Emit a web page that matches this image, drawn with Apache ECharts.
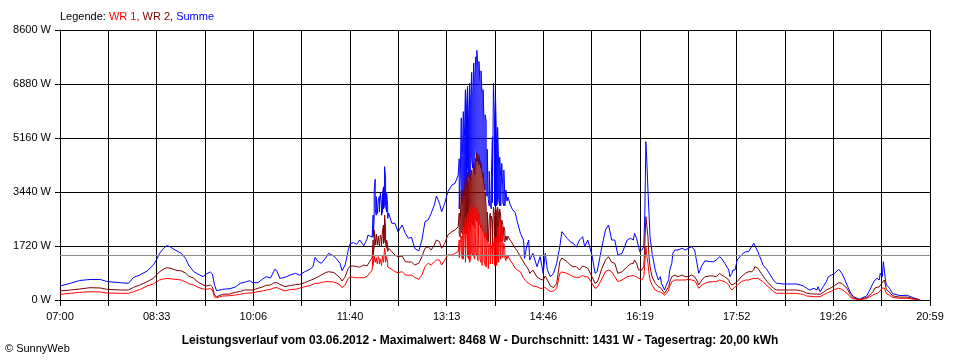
<!DOCTYPE html>
<html><head><meta charset="utf-8">
<script src="https://cdn.jsdelivr.net/npm/echarts@6/dist/echarts.min.js"></script>
<style>html,body{margin:0;padding:0;background:#fff}#c{width:960px;height:360px}</style>
</head><body><div id="c"></div>
<script>
// minutes after 07:00 (repeated minutes = max/min within that minute)
const minutes = [
0,10,19,29,39,45,58,66,71,77,84,90,93,96,100,103,106,111,117,121,124,129,133,138,141,145,147,149,151,157,164,
169,174,178,183,186,191,195,199,203,206,207,209,212,217,222,227,231,236,241,244,246,249,252,256,259,264,267,270,272,275,278,280,283,286,289,293,296,297,301,
302,302,303,303,304,304,305,305,306,306,307,307,308,308,309,309,310,310,311,311,312,312,313,313,314,314,315,315,316,316,
317,320,323,326,330,333,336,339,
342,346,349,352,355,358,361,363,366,368,371,374,378,381,384,
385,385,386,386,387,387,388,388,389,389,390,390,391,391,392,392,393,393,394,394,395,395,396,396,397,397,398,398,399,399,400,400,
401,401,402,402,403,403,404,404,405,405,406,406,407,407,408,408,409,409,410,410,411,411,412,412,413,413,414,414,415,415,416,416,
417,417,418,418,419,419,420,420,421,421,422,422,423,423,424,424,425,425,426,426,427,427,428,428,429,429,430,430,431,431,432,432,
434,436,439,441,444,447,448,450,452,453,456,460,463,466,468,470,473,476,479,482,484,485,489,492,495,498,501,504,506,
509,513,516,518,519,522,526,529,532,535,538,542,547,550,553,554,556,558,559,561,563,564,565,566,567,568,569,571,574,577,579,580,583,585,587,588,590,591,593,596,600,603,606,609,612,614,616,617,619,622,627,630,633,636,638,641,645,646,648,649,651,653,654,657,661,664,667,669,670,673,
678,682,685,688,691,698,704,710,714,717,720,723,727,730,731,733,736,739,741,744,747,751,754,757,759,762,765,771,778,781,784,786,788,790,791,793,794,795,796,797,800,803,810,817,823,829
];
// Summe (W)
const summe = [
446,532,621,653,653,589,551,532,723,796,924,1115,1274,1487,1647,1730,1698,1593,1487,1328,1115,901,828,742,828,892,828,478,296,341,360,
414,532,564,615,551,551,659,742,701,901,978,933,691,723,796,850,787,901,978,1061,1360,1220,1169,1328,1487,1401,1296,1169,933,1115,1593,1806,1825,1774,1911,1730,1933,2070,2000,
2707,2000,2600,3504,3845,2900,2700,3290,3350,2750,2700,3185,3300,2800,2800,3399,3080,2700,2800,3400,3609,2900,3000,4246,3876,3000,2800,3399,3000,2600,
2762,2443,2443,2176,2389,2125,1965,1997,
1647,1561,1911,2494,2548,2762,3026,3313,3080,2813,3080,3450,3663,3717,3981,
4500,2900,2900,3900,5800,3200,3100,4600,6000,3400,3300,5200,6700,3800,3600,6100,6800,4200,3900,5900,6900,4000,3800,6400,7250,4500,4200,6600,7550,4300,4000,7100,
7750,4800,4400,7950,7400,4600,4300,7600,6900,4500,4200,7300,6500,4100,3900,6700,5600,3700,3500,5900,5700,3400,3300,4800,4780,3200,3000,4100,4141,3000,2900,3900,
5200,3100,3100,6900,5800,3000,3100,6450,5000,3000,3100,5500,4300,3200,3000,4550,3900,3000,3050,4350,3600,3100,3000,4140,3300,3000,3050,3500,3150,3100,3100,3280,
3050,2900,2781,2494,2125,1911,1328,1698,1911,1274,1487,1061,1379,850,1487,956,742,850,1169,1698,2176,2125,1965,1857,1806,1679,1911,2016,1698,
1911,1433,850,900,956,1593,2230,2389,1911,1911,1433,1487,1911,1965,1911,2125,1965,1698,1538,1593,1698,2762,5042,4354,3504,2762,2016,1487,956,637,742,532,319,500,650,950,1169,1487,1593,1593,1647,1593,1647,1698,1593,1220,850,930,1100,1250,1220,1220,1274,1379,1328,1169,956,742,850,956,956,1274,1220,1433,1538,1538,1698,1806,1752,1538,
1115,956,796,637,532,510,510,510,478,446,373,319,373,319,424,264,424,583,742,796,850,978,850,637,478,255,105,25,130,319,532,637,691,637,850,742,1220,956,637,480,373,200,140,150,70,10
];
// WR 2 (W)
const wr2 = [
287,319,350,392,382,341,319,319,405,478,583,691,796,901,987,1029,1019,956,924,860,764,691,573,478,446,478,414,159,105,182,191,
245,271,319,319,319,373,414,468,478,541,583,557,500,424,462,487,500,551,621,659,691,742,796,870,901,876,796,710,605,742,1010,1083,1083,1067,1042,1115,1083,1061,1350,
1911,1400,1700,2230,2284,1750,1700,2100,2050,1750,1700,2039,2000,1700,1750,2070,1950,1700,1750,2200,2389,1800,1900,2707,2300,1800,1650,1900,1750,1550,
1647,1538,1433,1379,1401,1220,1210,1210,
1115,1169,1379,1647,1698,1593,1752,1911,1857,1647,1806,2070,2176,2230,2335,
2771,2100,2000,2500,3504,2200,2100,3000,3504,2300,2200,3300,3886,2300,2100,3500,4077,2400,2300,3800,4141,2400,2200,3900,4141,2500,2400,4000,4364,2400,2300,4100,
4523,2600,2500,4682,4400,2500,2400,4619,4300,2400,2300,4364,4000,2300,2200,4045,3600,2100,2000,3408,2962,2000,1900,2800,2771,1850,1800,2600,2771,1800,1750,2676,
2500,1800,1850,2962,2700,1800,1850,2962,2800,1800,1900,2962,2700,1850,1900,2900,2676,1850,1900,2548,2400,1900,1850,2325,2200,1850,1900,2039,2100,1900,1900,2039,
1911,1816,1647,1561,1379,1220,1147,1061,956,850,956,733,669,637,764,637,446,398,532,1220,1338,1328,1220,1115,1061,1061,956,1083,1061,
1010,742,532,573,637,956,1274,1379,1200,1169,850,901,1061,1147,1169,1274,1169,956,956,956,1061,1806,2653,2335,2016,1379,1061,742,532,424,398,373,213,319,424,573,742,780,796,742,796,742,742,796,742,637,478,541,637,742,770,764,742,850,796,742,637,541,478,510,532,583,637,742,850,901,901,956,1061,1010,
764,583,478,373,319,319,319,319,296,271,213,201,191,191,182,182,239,319,350,398,462,551,532,424,373,175,70,15,80,159,264,382,405,414,446,557,605,637,478,330,250,130,90,95,45,5
];
// WR 1 (W)
const wr1 = [
182,213,245,264,255,223,213,213,264,334,446,510,573,637,669,691,678,659,637,573,519,478,405,350,341,360,319,96,73,127,137,
159,182,213,223,233,264,287,319,341,382,424,398,350,287,334,341,373,424,462,500,532,532,557,583,583,573,541,478,392,478,691,742,717,710,710,710,749,774,950,
1487,1100,1150,1401,1400,1200,1150,1350,1400,1150,1150,1379,1300,1150,1150,1300,1250,1100,1150,1400,1433,1200,1250,1647,1450,1200,1150,1379,1200,1050,
1061,978,901,870,901,796,787,796,
723,659,796,1061,1169,1115,1210,1274,1274,1115,1274,1433,1433,1487,1538,
1911,1350,1300,1800,2039,1450,1300,1900,2300,1300,1250,2100,2644,1200,1250,2300,2771,1400,1300,2500,2962,1200,1300,2700,3090,1500,1400,2800,3090,1400,1300,2900,
2962,1500,1400,2962,2700,1250,1300,2771,2548,1300,1200,2400,2325,1100,1150,2200,2134,1250,1100,2000,2134,1050,1000,1900,1816,1000,1050,1700,1816,1150,1100,1650,
1816,1150,1150,1750,2007,1100,1150,1900,2007,1100,1300,2200,2325,1200,1150,2100,2548,1300,1250,2300,1911,1350,1300,1800,1600,1350,1250,1401,1450,1300,1300,1401,
1274,1179,1010,956,901,691,637,583,532,478,446,424,373,373,398,334,271,287,373,850,892,901,850,796,742,723,723,780,742,
742,532,373,398,424,637,901,956,901,742,583,637,742,764,780,796,742,691,669,637,742,1169,1698,1379,1169,850,637,478,319,264,255,233,159,213,319,446,583,621,637,637,637,637,659,637,615,510,373,414,478,532,583,583,583,637,615,583,478,398,319,373,424,468,510,583,637,637,669,685,742,691,
583,446,373,264,213,213,213,213,191,175,127,118,105,105,105,105,159,213,239,280,334,373,341,264,213,100,40,10,50,105,159,191,213,255,296,382,424,382,319,200,150,80,55,55,25,5
];
const timeLabels = ['07:00','08:33','10:06','11:40','13:13','14:46','16:19','17:52','19:26','20:59'];
const yTicks = [0,1720,3440,5160,6880,8600];
const average = 1431;
const spanMinutes = 839;
const gridSteps = 18;
const titleText = 'Leistungsverlauf vom 03.06.2012 - Maximalwert: 8468 W - Durchschnitt: 1431 W - Tagesertrag: 20,00 kWh';

const FONT = "'Liberation Sans', Arial, sans-serif";
const step = spanMinutes / gridSteps;
const pairs = arr => minutes.map((m, i) => [m, arr[i]]);

const chart = echarts.init(document.getElementById('c'), null, {renderer: 'canvas'});
chart.setOption({
  animation: false,
  backgroundColor: '#ffffff',
  textStyle: {fontFamily: FONT},
  title: {
    text: titleText, left: 'center', top: 330,
    textStyle: {fontSize: 12, fontWeight: 'bold', color: '#000', fontFamily: FONT}
  },
  graphic: [
    {type: 'text', left: 60, top: 11, style: {
      text: '{k|Legende: }{r|WR 1, }{d|WR 2, }{b|Summe}',
      font: '11px ' + FONT,
      rich: {
        k: {fill: '#000', fontSize: 11, fontFamily: FONT},
        r: {fill: '#ff0000', fontSize: 11, fontFamily: FONT},
        d: {fill: '#800000', fontSize: 11, fontFamily: FONT},
        b: {fill: '#0000ff', fontSize: 11, fontFamily: FONT}
      }
    }},
    {type: 'text', left: 5, top: 343, style: {text: '\u00a9 SunnyWeb', fill: '#000', font: '11px ' + FONT}}
  ],
  grid: {left: 60, right: 30, top: 30, bottom: 60, containLabel: false},
  xAxis: {
    type: 'value', min: 0, max: spanMinutes, interval: step,
    axisLine: {show: true, lineStyle: {color: '#000', width: 1}},
    axisTick: {show: true, length: 6, lineStyle: {color: '#000'}},
    splitLine: {show: true, lineStyle: {color: '#000', width: 1}},
    axisLabel: {
      color: '#000', fontSize: 11, fontFamily: FONT, margin: 11, hideOverlap: false,
      showMinLabel: true, showMaxLabel: true,
      formatter: v => { const i = Math.round(v / step); return i % 2 === 0 ? (timeLabels[i / 2] || '') : ''; }
    }
  },
  yAxis: {
    type: 'value', min: yTicks[0], max: yTicks[yTicks.length - 1], interval: yTicks[1] - yTicks[0],
    axisLine: {show: true, lineStyle: {color: '#000', width: 1}},
    axisTick: {show: true, length: 5, lineStyle: {color: '#000'}},
    splitLine: {show: true, lineStyle: {color: '#000', width: 1}},
    axisLabel: {color: '#000', fontSize: 11, fontFamily: FONT, margin: 9, formatter: v => v + ' W'}
  },
  series: [
    {name: 'Summe', type: 'line', data: pairs(summe), symbol: 'none', lineStyle: {color: '#0000ff', width: 1}, itemStyle: {color: '#0000ff'},
     markLine: {silent: true, symbol: 'none', label: {show: false}, lineStyle: {color: '#8c8c8c', width: 1, type: 'solid'}, data: [{yAxis: average}]}},
    {name: 'WR 2', type: 'line', data: pairs(wr2), symbol: 'none', lineStyle: {color: '#800000', width: 1}, itemStyle: {color: '#800000'}},
    {name: 'WR 1', type: 'line', data: pairs(wr1), symbol: 'none', lineStyle: {color: '#ff0000', width: 1}, itemStyle: {color: '#ff0000'}}
  ]
});
</script>
</body></html>
